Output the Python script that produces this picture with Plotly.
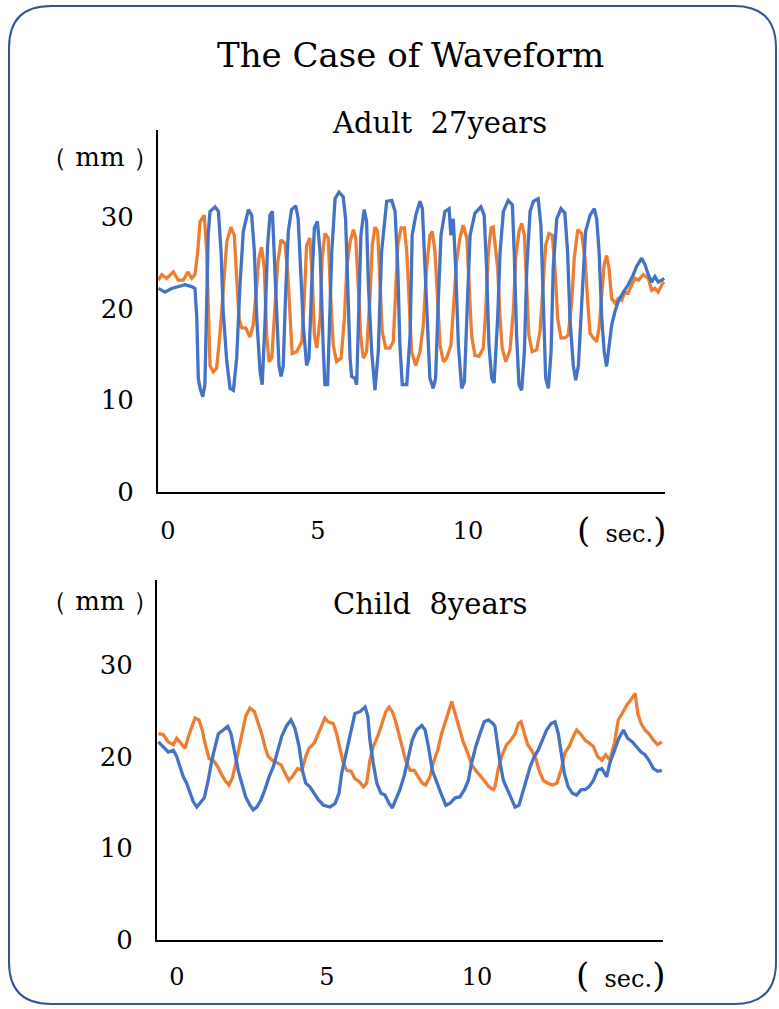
import plotly.graph_objects as go

# ---------------- data (seconds, mm) ----------------
adult_blue_t = [-0.32,-0.10,0.12,0.34,0.57,0.79,0.90,0.96,1.01,1.07,1.16,1.23,1.29,1.34,1.40,1.57,1.68,1.77,1.84,1.96,
 2.07,2.18,2.29,2.40,2.51,2.68,2.79,2.88,2.96,3.07,3.14,3.23,3.32,3.40,3.48,3.54,3.62,3.70,3.77,3.84,
 3.92,4.01,4.12,4.26,4.34,4.43,4.51,4.62,4.70,4.79,4.88,4.98,5.07,5.18,5.23,5.32,5.46,5.57,5.70,5.84,
 5.92,5.99,6.07,6.12,6.23,6.29,6.34,6.43,6.54,6.62,6.68,6.79,6.90,7.01,7.12,7.21,7.29,7.46,7.57,7.66,
 7.73,7.81,7.96,8.07,8.14,8.26,8.40,8.48,8.57,8.66,8.73,8.84,8.92,9.01,9.10,9.23,9.37,9.43,9.51,9.59,
 9.68,9.79,9.88,9.96,10.07,10.23,10.43,10.54,10.62,10.70,10.79,10.87,10.99,11.07,11.18,11.34,11.48,11.54,11.62,11.70,
 11.79,11.88,11.96,12.07,12.18,12.34,12.43,12.51,12.59,12.68,12.77,12.84,12.96,13.10,13.23,13.32,13.40,13.51,13.59,13.68,
 13.81,13.92,14.07,14.21,14.29,14.37,14.46,14.54,14.62,14.70,14.79,14.90,15.01,15.18,15.34,15.51,15.62,15.79,15.90,16.01,
 16.12,16.23,16.34,16.46,16.54]
adult_blue_v = [22.2,21.8,22.2,22.4,22.6,22.4,22.2,19.0,12.4,11.3,10.4,11.7,19.0,28.0,30.6,31.1,30.6,26.2,19.7,14.2,
 11.3,11.1,14.6,22.6,28.4,30.8,30.2,26.2,18.9,13.1,11.7,18.2,26.9,30.2,30.6,26.2,18.9,13.8,12.6,13.7,
 21.5,28.4,30.8,31.2,29.8,24.4,18.2,13.8,14.6,22.6,28.8,29.5,26.2,15.3,11.7,11.7,26.2,32.0,32.7,32.2,
 29.8,22.6,14.6,12.6,12.4,11.7,18.2,28.0,30.8,29.5,22.6,15.3,11.1,15.3,26.2,29.5,31.7,31.8,30.6,24.4,
 16.0,11.7,11.7,17.1,28.0,30.2,31.7,30.9,24.4,16.0,12.4,11.3,12.4,20.8,28.0,30.6,30.9,28.0,29.8,24.4,
 16.0,11.3,12.0,18.9,28.0,30.4,31.1,30.2,24.4,16.0,12.4,11.9,19.0,26.2,30.6,31.8,31.3,26.2,17.1,11.7,
 11.1,15.3,24.4,30.6,31.7,32.0,29.1,20.8,12.4,11.3,15.3,24.4,29.8,30.9,30.4,26.2,18.9,13.8,12.2,13.8,
 22.6,28.4,30.2,30.9,29.8,26.2,18.9,15.3,13.7,16.0,18.2,19.7,20.8,21.8,22.6,23.7,24.6,25.5,24.8,23.7,
 22.9,23.5,22.9,23.1,23.3]

adult_orange_t = [-0.32,-0.21,-0.04,0.18,0.34,0.51,0.66,0.79,0.90,0.99,1.07,1.21,1.29,1.34,1.40,1.51,1.62,1.73,1.84,1.96,
 2.10,2.21,2.29,2.37,2.46,2.59,2.73,2.84,2.96,3.03,3.12,3.21,3.29,3.37,3.46,3.57,3.66,3.77,3.90,3.99,
 4.07,4.14,4.29,4.46,4.54,4.62,4.73,4.81,4.88,4.96,5.07,5.14,5.23,5.34,5.43,5.51,5.62,5.77,5.88,5.96,
 6.07,6.18,6.26,6.34,6.43,6.51,6.62,6.73,6.81,6.90,6.99,7.07,7.14,7.26,7.40,7.51,7.59,7.66,7.77,7.88,
 7.96,8.03,8.12,8.26,8.40,8.51,8.62,8.73,8.81,8.90,8.99,9.07,9.18,9.29,9.43,9.54,9.62,9.73,9.84,9.96,
 10.03,10.12,10.23,10.37,10.51,10.59,10.68,10.77,10.84,10.99,11.07,11.14,11.26,11.40,11.51,11.59,11.70,11.79,11.88,11.96,
 12.03,12.14,12.29,12.40,12.51,12.59,12.70,12.81,12.90,12.99,13.10,13.23,13.34,13.46,13.54,13.66,13.79,13.90,13.99,14.07,
 14.18,14.29,14.37,14.46,14.54,14.62,14.70,14.79,14.90,15.01,15.12,15.23,15.34,15.46,15.57,15.68,15.84,16.01,16.12,16.23,
 16.34,16.46,16.54]
adult_orange_v = [23.1,23.7,23.3,24.0,23.1,23.1,24.0,23.3,23.7,26.2,29.5,30.2,26.2,18.9,13.8,13.1,13.5,17.1,22.6,27.3,
 28.9,28.0,23.3,18.9,17.9,17.9,16.9,18.2,22.6,25.5,26.7,24.4,17.1,14.2,14.6,19.7,25.1,27.5,27.1,24.0,
 18.2,15.1,15.3,16.4,20.8,26.9,27.7,23.3,17.1,15.7,18.9,25.5,28.2,27.7,20.8,16.0,14.2,14.6,18.9,24.4,
 27.3,28.6,27.7,22.6,16.8,14.6,15.3,21.1,26.9,28.9,28.4,22.6,17.5,15.7,15.7,16.4,21.5,26.9,28.8,28.8,
 26.2,20.8,15.3,13.8,15.3,18.2,24.4,28.0,28.4,26.2,20.8,16.0,14.2,14.6,16.0,20.8,25.1,27.7,29.1,27.7,
 22.6,17.1,14.9,14.8,15.7,19.7,26.2,28.8,28.9,24.4,18.9,15.7,14.2,15.5,19.7,25.5,28.4,29.3,28.0,22.6,
 17.1,15.3,15.5,17.5,22.6,26.9,28.2,28.0,24.4,18.9,16.8,16.8,17.1,20.8,25.5,28.6,28.2,25.5,20.8,17.3,
 16.8,16.4,17.9,21.5,24.8,25.8,24.4,21.1,20.6,21.1,20.9,21.8,21.7,22.6,23.3,23.1,23.7,23.3,22.0,22.2,
 21.8,22.6,22.9]

child_blue_t = [-0.62,-0.46,-0.29,-0.12,-0.01,0.10,0.21,0.32,0.43,0.54,0.66,0.77,0.91,1.04,1.16,1.27,1.38,1.54,1.69,1.80,
 1.93,2.04,2.16,2.29,2.43,2.54,2.66,2.80,2.93,3.07,3.21,3.36,3.49,3.66,3.80,3.93,4.07,4.18,4.29,4.43,
 4.58,4.71,4.88,5.10,5.27,5.40,5.49,5.58,5.69,5.82,5.93,6.10,6.27,6.36,6.43,6.54,6.66,6.80,6.93,7.07,
 7.18,7.29,7.43,7.58,7.71,7.84,7.99,8.16,8.27,8.38,8.51,8.66,8.80,8.96,9.10,9.27,9.43,9.58,9.71,9.82,
 9.96,10.10,10.24,10.38,10.54,10.60,10.69,10.77,10.88,11.02,11.16,11.27,11.40,11.51,11.62,11.77,11.91,12.04,12.18,12.32,
 12.47,12.60,12.71,12.80,12.91,13.04,13.18,13.32,13.47,13.60,13.73,13.88,14.02,14.16,14.32,14.43,14.58,14.73,14.88,15.02,
 15.18,15.32,15.47,15.60,15.73,15.88,16.02,16.16]
child_blue_v = [21.6,21.1,20.5,20.7,20.0,18.9,17.8,17.1,16.0,15.1,14.5,14.9,15.5,17.4,19.6,21.1,22.5,22.9,23.3,22.5,
 20.4,18.5,17.1,15.6,14.7,14.2,14.5,15.3,16.4,17.8,18.9,20.7,22.2,23.4,24.0,23.1,21.1,18.5,17.1,16.7,
 16.0,15.3,14.7,14.5,14.9,16.0,18.2,19.6,21.1,23.3,24.7,24.9,25.4,24.4,21.8,19.3,17.1,16.0,15.8,14.9,
 14.4,15.3,16.4,18.0,20.0,21.8,22.9,23.4,22.9,21.1,18.5,17.1,16.0,14.7,14.9,15.5,15.6,16.4,17.4,19.3,
 21.1,22.5,23.8,24.0,23.6,23.3,21.1,19.3,17.4,16.4,15.3,14.5,14.7,16.0,17.4,18.9,20.0,20.7,21.8,22.9,
 23.6,23.8,22.5,20.4,18.2,16.7,16.0,15.8,16.4,16.4,16.7,17.4,18.5,18.7,17.8,19.3,20.7,22.0,22.9,22.0,
 21.6,21.1,20.5,20.2,19.6,18.7,18.4,18.5]

child_orange_t = [-0.62,-0.46,-0.29,-0.12,-0.01,0.13,0.27,0.38,0.49,0.60,0.73,0.84,0.96,1.07,1.21,1.36,1.49,1.62,1.73,1.84,
 1.96,2.07,2.18,2.29,2.43,2.58,2.71,2.82,2.93,3.04,3.18,3.32,3.47,3.60,3.73,3.88,4.02,4.16,4.29,4.40,
 4.58,4.71,4.88,4.93,5.04,5.21,5.32,5.43,5.54,5.66,5.80,5.93,6.07,6.21,6.32,6.43,6.54,6.69,6.82,6.96,
 7.07,7.18,7.29,7.40,7.51,7.62,7.77,7.91,8.04,8.18,8.29,8.43,8.54,8.69,8.82,8.96,9.07,9.16,9.27,9.40,
 9.54,9.69,9.82,9.96,10.10,10.24,10.40,10.54,10.60,10.71,10.84,10.99,11.13,11.27,11.38,11.47,11.58,11.69,11.82,11.96,
 12.07,12.21,12.36,12.51,12.66,12.80,12.93,13.07,13.21,13.32,13.47,13.60,13.73,13.88,14.02,14.16,14.29,14.43,14.58,14.71,
 14.84,14.99,15.13,15.27,15.36,15.47,15.60,15.73,15.88,16.02,16.16]
child_orange_v = [22.5,22.4,21.6,21.3,22.0,21.5,20.9,22.2,23.3,24.2,24.0,22.9,21.1,19.8,19.6,18.9,18.0,17.3,16.9,17.6,
 19.3,21.1,22.9,24.4,25.3,24.9,23.6,22.5,21.1,20.0,19.6,19.4,19.1,18.2,17.4,18.0,18.7,18.5,20.0,20.9,
 21.5,22.5,23.8,24.2,23.8,23.6,22.5,20.7,19.3,18.5,18.4,17.6,17.3,16.7,17.1,19.6,21.1,22.2,23.6,24.9,
 25.4,24.9,23.8,22.5,21.1,19.6,18.5,18.5,17.8,17.1,16.9,17.8,19.3,20.7,22.5,24.0,24.9,26.0,24.7,23.3,
 21.6,20.4,19.1,18.5,18.0,17.4,16.7,16.4,16.7,18.7,20.2,21.3,21.8,22.5,23.6,23.8,22.5,21.3,20.7,19.8,
 18.5,17.4,17.1,16.9,17.1,18.5,20.4,21.1,22.2,22.9,22.4,21.8,21.5,21.1,20.0,19.6,20.2,19.6,21.5,24.0,
 24.7,25.6,26.2,26.9,24.7,23.6,22.9,22.5,21.8,21.3,21.6]

y_ticks = [0, 10, 20, 30]
x_ticks = [0, 5, 10]
title_text = "The Case of Waveform"
adult_title = "Adult&nbsp;&nbsp;27years"
child_title = "Child&nbsp;&nbsp;8years"
y_unit = "（&nbsp;mm&nbsp;）"

BLUE = "#4472C4"
ORANGE = "#ED7D31"
FONT = "DejaVu Serif"
W, H = 779, 1009

fig = go.Figure()
for xa, ya, bt, bv, ot, ov in [("x", "y", adult_blue_t, adult_blue_v, adult_orange_t, adult_orange_v),
                               ("x2", "y2", child_blue_t, child_blue_v, child_orange_t, child_orange_v)]:
    fig.add_trace(go.Scatter(x=ot, y=ov, mode="lines", line=dict(color=ORANGE, width=3.3),
                             xaxis=xa, yaxis=ya, showlegend=False, hoverinfo="skip"))
    fig.add_trace(go.Scatter(x=bt, y=bv, mode="lines", line=dict(color=BLUE, width=3.3),
                             xaxis=xa, yaxis=ya, showlegend=False, hoverinfo="skip"))

def px_x(p):
    return p / W

def px_y(p):
    return 1 - p / H

axis_common = dict(showline=True, linecolor="black", linewidth=2, showgrid=False, zeroline=False,
                   ticks="", fixedrange=True)

fig.update_layout(
    margin=dict(l=0, r=0, t=0, b=0, autoexpand=False),
    paper_bgcolor="white", plot_bgcolor="white",
    font=dict(family=FONT, color="black"),
    xaxis=dict(axis_common, domain=[px_x(158), px_x(665)], range=[-0.333, 16.567], anchor="y",
               tickvals=x_ticks, tickfont=dict(size=24), ticklabelstandoff=16),
    yaxis=dict(axis_common, domain=[px_y(492), px_y(130)], range=[0, 39.48], anchor="x",
               tickvals=y_ticks, tickfont=dict(size=26), ticklabelstandoff=17),
    xaxis2=dict(axis_common, domain=[px_x(157), px_x(663)], range=[-0.667, 16.2], anchor="y2",
                tickvals=x_ticks, tickfont=dict(size=24), ticklabelstandoff=14),
    yaxis2=dict(axis_common, domain=[px_y(940), px_y(580)], range=[0, 39.26], anchor="x2",
                tickvals=y_ticks, tickfont=dict(size=26), ticklabelstandoff=17),
)

# rounded border
x0, x1, y0, y1, r = 9, 776, 6, 1004, 42
def P(x, y):
    return f"{px_x(x):.5f},{px_y(y):.5f}"
path = (f"M {P(x0 + r, y0)} L {P(x1 - r, y0)} Q {P(x1, y0)} {P(x1, y0 + r)} "
        f"L {P(x1, y1 - r)} Q {P(x1, y1)} {P(x1 - r, y1)} L {P(x0 + r, y1)} "
        f"Q {P(x0, y1)} {P(x0, y1 - r)} L {P(x0, y0 + r)} Q {P(x0, y0)} {P(x0 + r, y0)} Z")
fig.add_shape(type="path", path=path, xref="paper", yref="paper",
              line=dict(color="#2F5597", width=2), fillcolor="rgba(0,0,0,0)", layer="above")

sec_text = "<span style='font-size:34px'>(</span>&nbsp;&nbsp;sec.<span style='font-size:34px'>)</span>"
annots = [
    (410, 55, title_text, 34),
    (439, 123, adult_title, 29),
    (430, 604, child_title, 29),
    (100, 157, y_unit, 26),
    (100, 601, y_unit, 26),
    (621, 530, sec_text, 24),
    (620, 975, sec_text, 24),
]
for x, y, t, s in annots:
    fig.add_annotation(x=px_x(x), y=px_y(y), xref="paper", yref="paper", text=t, showarrow=False,
                       font=dict(size=s, family=FONT, color="black"), xanchor="center", yanchor="middle")

# pin the graph div to the page origin so the page is exactly W x H (body margin ignored)
fig.write_html("out.html",
               config={"displayModeBar": False, "responsive": False, "staticPlot": True},
               default_width=f"{W}px;position:absolute;left:0;top:0;margin:0",
               default_height=f"{H}px")
